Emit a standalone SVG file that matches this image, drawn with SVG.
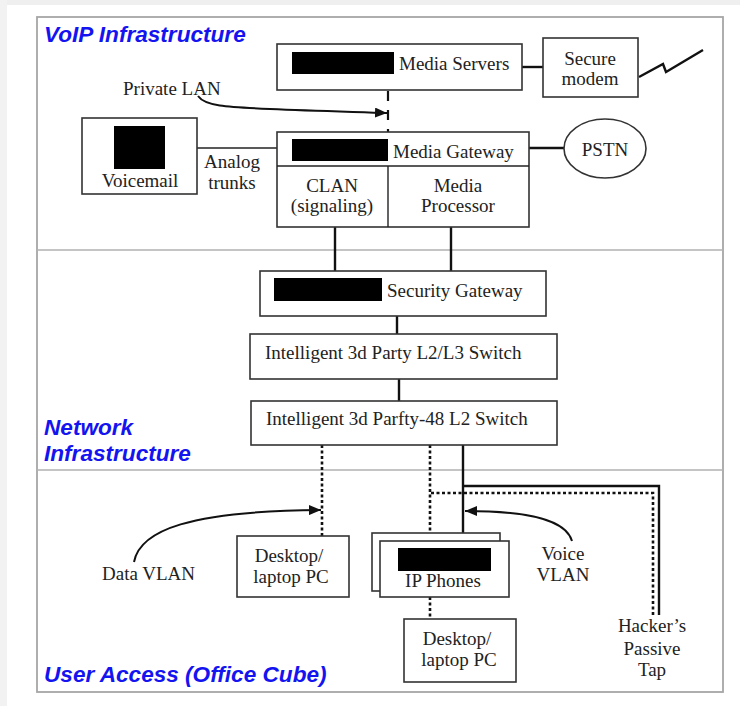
<svg xmlns="http://www.w3.org/2000/svg" width="740" height="706" viewBox="0 0 740 706">
  <style>
    .box { fill: #fff; stroke: #333; stroke-width: 1.6; }
    .blk { fill: #000; }
    .t { font-family: "Liberation Serif", "Times New Roman", serif; font-size: 19px; fill: #222; }
    .c { text-anchor: middle; }
    .zone { font-family: "Liberation Sans", Arial, sans-serif; font-size: 22.6px; font-weight: bold; font-style: italic; fill: #1414f0; }
    .solid { fill: none; stroke: #111; stroke-width: 2.4; }
    .thin { fill: none; stroke: #222; stroke-width: 1.4; }
    .dash { fill: none; stroke: #111; stroke-width: 2.2; stroke-dasharray: 10 9; }
    .dot { fill: none; stroke: #111; stroke-width: 2.6; stroke-dasharray: 3 2.5; }
    .curve { fill: none; stroke: #111; stroke-width: 2; }
  </style>
  <defs>
    <marker id="arrow" viewBox="0 0 12 10" refX="12" refY="5" markerWidth="12" markerHeight="10" markerUnits="userSpaceOnUse" orient="auto">
      <path d="M0,0 L12,5 L0,10 Z" fill="#111"/>
    </marker>
  </defs>

  <!-- page background -->
  <rect width="740" height="706" fill="#fff"/>
  <rect x="0" y="0" width="740" height="5" fill="#efefef"/>
  <rect x="0" y="0" width="7" height="706" fill="#f2f2f2"/>

  <!-- zone frame -->
  <g id="zones">
    <rect x="37" y="17" width="686" height="675" fill="#fff" stroke="#a6a6a6" stroke-width="1.8"/>
    <line x1="37" y1="250" x2="723" y2="250" stroke="#b0b0b0" stroke-width="1.6"/>
    <line x1="37" y1="470" x2="723" y2="470" stroke="#b0b0b0" stroke-width="1.6"/>
    <text class="zone" x="44" y="42">VoIP Infrastructure</text>
    <text class="zone" x="44" y="435">Network</text>
    <text class="zone" x="44" y="461">Infrastructure</text>
    <text class="zone" x="44" y="682">User Access (Office Cube)</text>
  </g>

  <!-- connectors -->
  <g id="connectors">
    <line class="solid" x1="522" y1="67" x2="543" y2="67"/>
    <polyline class="solid" points="639,77 663,64 666,72 703,50"/>
    <line class="dash" x1="388" y1="91" x2="388" y2="132"/>
    <line class="thin" x1="197" y1="148" x2="277" y2="148"/>
    <line class="solid" x1="529" y1="148" x2="564" y2="148"/>
    <line class="solid" x1="335" y1="227" x2="335" y2="271"/>
    <line class="solid" x1="451" y1="227" x2="451" y2="271"/>
    <line class="solid" x1="397" y1="316" x2="397" y2="334"/>
    <line class="solid" x1="399" y1="379" x2="399" y2="401"/>
    <line class="dot" x1="322" y1="445" x2="322" y2="536"/>
    <polyline class="dot" points="430,445 430,533"/>
    <polyline class="dot" points="431,493 653,493 653,615"/>
    <line class="solid" x1="463" y1="445" x2="463" y2="534"/>
    <polyline class="solid" points="463,486 659,486 659,615"/>
    <line class="dot" x1="430" y1="597" x2="430" y2="619"/>
    <path class="curve" d="M198,96 C205,106 225,107 270,109 S360,112 387,113" marker-end="url(#arrow)"/>
    <path class="curve" d="M134,562 C140,530 190,511 321,510" marker-end="url(#arrow)"/>
    <path class="curve" d="M572,541 C566,520 530,511 465,511" marker-end="url(#arrow)"/>
  </g>

  <g id="media-servers">
    <rect class="box" x="277" y="44" width="245" height="46"/>
    <rect class="blk" x="292" y="52" width="102" height="22"/>
    <text class="t" x="399" y="70">Media Servers</text>
  </g>

  <g id="secure-modem">
    <rect class="box" x="543" y="38" width="95" height="59"/>
    <text class="t c" x="590" y="65">Secure</text>
    <text class="t c" x="590" y="85">modem</text>
  </g>

  <g id="private-lan">
    <text class="t" x="123" y="95">Private LAN</text>
  </g>

  <g id="voicemail">
    <rect class="box" x="82" y="118" width="115" height="76"/>
    <rect class="blk" x="114" y="126" width="51" height="43"/>
    <text class="t c" x="140" y="187">Voicemail</text>
  </g>

  <g id="analog-trunks">
    <text class="t c" x="232" y="168">Analog</text>
    <text class="t c" x="232" y="189">trunks</text>
  </g>

  <g id="media-gateway">
    <rect class="box" x="277" y="132" width="252" height="95"/>
    <line class="thin" x1="277" y1="166" x2="529" y2="166"/>
    <line class="thin" x1="388" y1="166" x2="388" y2="227"/>
    <rect class="blk" x="292" y="139" width="96" height="22"/>
    <text class="t" x="393" y="158">Media Gateway</text>
    <text class="t c" x="332" y="192">CLAN</text>
    <text class="t c" x="332" y="212">(signaling)</text>
    <text class="t c" x="458" y="192">Media</text>
    <text class="t c" x="458" y="212">Processor</text>
  </g>

  <g id="pstn">
    <ellipse cx="605" cy="148.5" rx="41" ry="29.5" fill="#fff" stroke="#333" stroke-width="1.6"/>
    <text class="t c" x="605" y="156">PSTN</text>
  </g>

  <g id="security-gateway">
    <rect class="box" x="260" y="271" width="286" height="45"/>
    <rect class="blk" x="274" y="278" width="108" height="23"/>
    <text class="t" x="387" y="297">Security Gateway</text>
  </g>

  <g id="l2l3-switch">
    <rect class="box" x="250" y="334" width="307" height="45"/>
    <text class="t" x="265" y="359">Intelligent 3d Party L2/L3 Switch</text>
  </g>

  <g id="l2-switch">
    <rect class="box" x="251" y="401" width="306" height="44"/>
    <text class="t" x="266" y="425">Intelligent 3d Parfty-48 L2 Switch</text>
  </g>

  <g id="data-vlan">
    <text class="t" x="102" y="580">Data VLAN</text>
  </g>

  <g id="desktop-1">
    <rect class="box" x="237" y="536" width="112" height="61"/>
    <text class="t c" x="289" y="562">Desktop/</text>
    <text class="t c" x="291" y="583">laptop PC</text>
  </g>

  <g id="ip-phones">
    <rect class="box" x="372" y="533" width="128" height="58"/>
    <rect class="box" x="380" y="541" width="129" height="56"/>
    <rect class="blk" x="398" y="548" width="93" height="23"/>
    <text class="t c" x="443" y="587">IP Phones</text>
  </g>

  <g id="voice-vlan">
    <text class="t c" x="563" y="560">Voice</text>
    <text class="t c" x="563" y="581">VLAN</text>
  </g>

  <g id="desktop-2">
    <rect class="box" x="404" y="619" width="112" height="63"/>
    <text class="t c" x="457" y="645">Desktop/</text>
    <text class="t c" x="459" y="666">laptop PC</text>
  </g>

  <g id="hacker-tap">
    <text class="t c" x="652" y="632">Hacker’s</text>
    <text class="t c" x="652" y="655">Passive</text>
    <text class="t c" x="652" y="676">Tap</text>
  </g>
</svg>
